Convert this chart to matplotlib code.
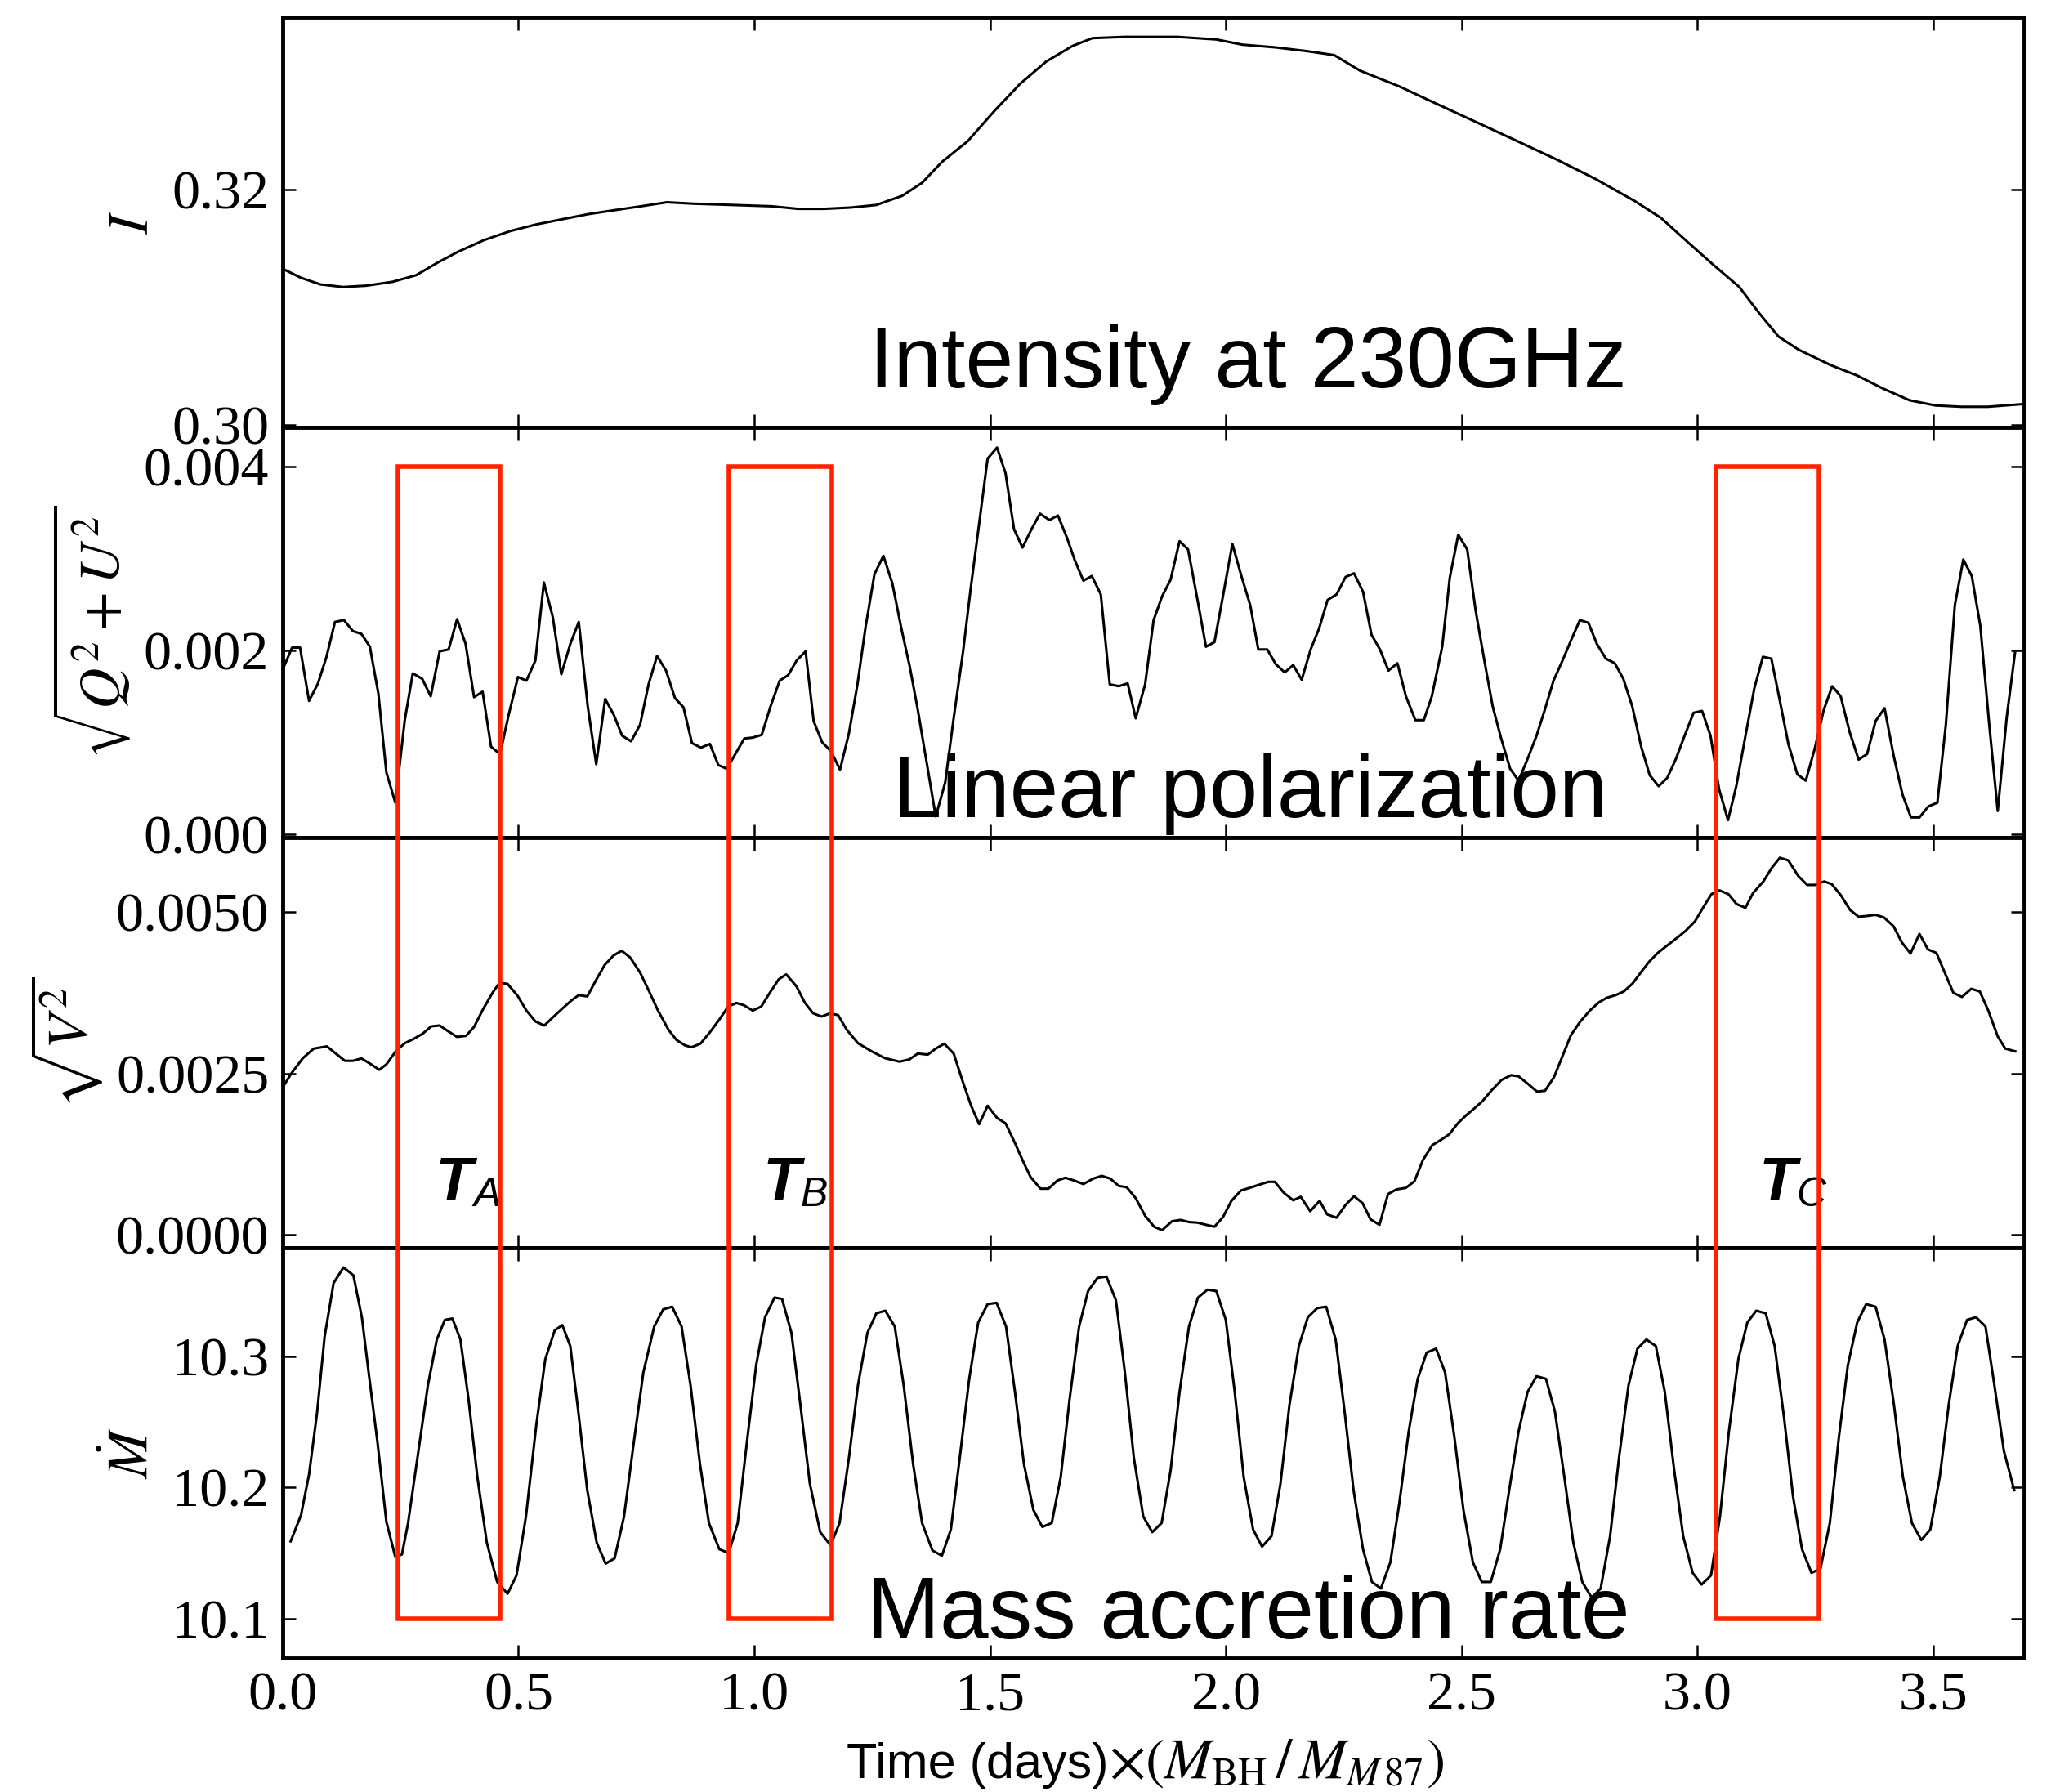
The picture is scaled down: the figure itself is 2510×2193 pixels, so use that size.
import matplotlib
matplotlib.use('Agg')
import matplotlib.pyplot as plt
from matplotlib.patches import Rectangle

plt.rcParams['font.family'] = 'serif'
plt.rcParams['font.serif'] = ['Liberation Serif', 'DejaVu Serif']
plt.rcParams['mathtext.fontset'] = 'stix'

# intensity at 230GHz
t_I = [0.000, 0.039, 0.080, 0.128, 0.177, 0.233, 0.283, 0.330, 0.372, 0.427,
       0.483, 0.538, 0.593, 0.649, 0.704, 0.760, 0.815, 0.871, 0.954, 1.037,
       1.093, 1.148, 1.204, 1.259, 1.314, 1.356, 1.398, 1.453, 1.509, 1.564,
       1.619, 1.675, 1.717, 1.786, 1.897, 1.980, 2.035, 2.105, 2.174, 2.230,
       2.285, 2.368, 2.451, 2.535, 2.618, 2.701, 2.784, 2.867, 2.923, 2.978,
       3.034, 3.089, 3.131, 3.172, 3.214, 3.283, 3.339, 3.394, 3.450, 3.505,
       3.561, 3.616, 3.688]
I_vals = [0.31326, 0.31249, 0.31193, 0.31171, 0.31182, 0.31215, 0.31271, 0.31381, 0.31470, 0.31569,
          0.31646, 0.31702, 0.31746, 0.31790, 0.31823, 0.31856, 0.31890, 0.31878, 0.31867, 0.31856,
          0.31834, 0.31834, 0.31845, 0.31867, 0.31945, 0.32055, 0.32232, 0.32409, 0.32663, 0.32895,
          0.33083, 0.33216, 0.33282, 0.33293, 0.33293, 0.33271, 0.33227, 0.33204, 0.33171, 0.33138,
          0.33006, 0.32873, 0.32718, 0.32563, 0.32409, 0.32254, 0.32088, 0.31901, 0.31757, 0.31558,
          0.31359, 0.31171, 0.30950, 0.30751, 0.30641, 0.30508, 0.30420, 0.30309, 0.30210, 0.30166,
          0.30155, 0.30155, 0.30177]

# linear polarization sqrt(Q^2+U^2)
t_lp = [0.000, 0.020, 0.037, 0.056, 0.075, 0.093, 0.111, 0.130, 0.149, 0.167,
        0.185, 0.203, 0.220, 0.239, 0.259, 0.276, 0.296, 0.314, 0.333, 0.352,
        0.370, 0.388, 0.406, 0.424, 0.442, 0.461, 0.479, 0.499, 0.517, 0.536,
        0.554, 0.573, 0.591, 0.610, 0.628, 0.647, 0.665, 0.684, 0.702, 0.720,
        0.739, 0.758, 0.776, 0.794, 0.813, 0.832, 0.850, 0.868, 0.887, 0.906,
        0.924, 0.942, 0.960, 0.979, 0.997, 1.016, 1.034, 1.054, 1.072, 1.090,
        1.109, 1.126, 1.144, 1.163, 1.182, 1.201, 1.219, 1.236, 1.255, 1.274,
        1.293, 1.312, 1.330, 1.347, 1.366, 1.385, 1.405, 1.423, 1.443, 1.459,
        1.477, 1.495, 1.515, 1.533, 1.551, 1.569, 1.588, 1.606, 1.626, 1.644,
        1.663, 1.680, 1.698, 1.716, 1.735, 1.754, 1.773, 1.792, 1.809, 1.829,
        1.847, 1.865, 1.883, 1.902, 1.920, 1.939, 1.958, 1.976, 1.994, 2.014,
        2.032, 2.052, 2.069, 2.088, 2.106, 2.125, 2.143, 2.161, 2.180, 2.198,
        2.216, 2.235, 2.254, 2.272, 2.291, 2.309, 2.327, 2.345, 2.364, 2.382,
        2.402, 2.420, 2.437, 2.459, 2.475, 2.493, 2.512, 2.530, 2.548, 2.566,
        2.584, 2.603, 2.621, 2.641, 2.659, 2.677, 2.695, 2.715, 2.733, 2.751,
        2.769, 2.787, 2.806, 2.825, 2.843, 2.862, 2.881, 2.899, 2.918, 2.936,
        2.954, 2.973, 2.992, 3.010, 3.028, 3.046, 3.065, 3.083, 3.101, 3.121,
        3.139, 3.157, 3.175, 3.193, 3.212, 3.230, 3.249, 3.268, 3.286, 3.304,
        3.323, 3.342, 3.360, 3.378, 3.397, 3.416, 3.435, 3.453, 3.471, 3.490,
        3.509, 3.527, 3.546, 3.564, 3.582, 3.600, 3.619, 3.637, 3.656, 3.674]
lp_vals = [0.00179, 0.00203, 0.00203, 0.00145, 0.00164, 0.00193, 0.00231, 0.00233, 0.00221, 0.00218,
           0.00204, 0.00153, 0.00067, 0.00034, 0.00124, 0.00175, 0.00169, 0.00150, 0.00199, 0.00201,
           0.00234, 0.00207, 0.00149, 0.00155, 0.00095, 0.00087, 0.00129, 0.00171, 0.00167, 0.00189,
           0.00274, 0.00236, 0.00174, 0.00207, 0.00231, 0.00139, 0.00076, 0.00147, 0.00130, 0.00107,
           0.00101, 0.00119, 0.00163, 0.00194, 0.00178, 0.00148, 0.00138, 0.00099, 0.00094, 0.00098,
           0.00075, 0.00071, 0.00087, 0.00104, 0.00105, 0.00108, 0.00138, 0.00167, 0.00173, 0.00189,
           0.00199, 0.00123, 0.00100, 0.00090, 0.00070, 0.00110, 0.00163, 0.00225, 0.00283, 0.00303,
           0.00273, 0.00224, 0.00182, 0.00135, 0.00077, 0.00019, 0.00056, 0.00126, 0.00199, 0.00267,
           0.00338, 0.00409, 0.00421, 0.00393, 0.00332, 0.00312, 0.00332, 0.00349, 0.00342, 0.00347,
           0.00323, 0.00298, 0.00276, 0.00281, 0.00261, 0.00163, 0.00161, 0.00164, 0.00126, 0.00163,
           0.00233, 0.00259, 0.00277, 0.00319, 0.00310, 0.00258, 0.00204, 0.00209, 0.00259, 0.00316,
           0.00283, 0.00249, 0.00201, 0.00201, 0.00185, 0.00176, 0.00184, 0.00168, 0.00201, 0.00224,
           0.00255, 0.00261, 0.00280, 0.00284, 0.00264, 0.00217, 0.00201, 0.00178, 0.00186, 0.00150,
           0.00124, 0.00124, 0.00150, 0.00204, 0.00279, 0.00326, 0.00310, 0.00243, 0.00190, 0.00139,
           0.00104, 0.00071, 0.00058, 0.00083, 0.00107, 0.00136, 0.00167, 0.00190, 0.00212, 0.00233,
           0.00230, 0.00207, 0.00191, 0.00186, 0.00169, 0.00139, 0.00095, 0.00064, 0.00052, 0.00061,
           0.00081, 0.00107, 0.00132, 0.00134, 0.00107, 0.00049, 0.00015, 0.00053, 0.00104, 0.00159,
           0.00193, 0.00191, 0.00145, 0.00098, 0.00065, 0.00058, 0.00093, 0.00135, 0.00161, 0.00150,
           0.00111, 0.00081, 0.00087, 0.00123, 0.00137, 0.00086, 0.00043, 0.00018, 0.00018, 0.00030,
           0.00034, 0.00119, 0.00249, 0.00299, 0.00281, 0.00227, 0.00119, 0.00025, 0.00127, 0.00199]

# circular polarization sqrt(V^2)
t_v = [0.001, 0.019, 0.043, 0.066, 0.094, 0.114, 0.132, 0.149, 0.167, 0.185,
       0.205, 0.220, 0.240, 0.259, 0.277, 0.297, 0.315, 0.333, 0.350, 0.370,
       0.389, 0.406, 0.425, 0.445, 0.460, 0.477, 0.498, 0.517, 0.536, 0.555,
       0.573, 0.593, 0.613, 0.628, 0.646, 0.664, 0.683, 0.702, 0.719, 0.737,
       0.758, 0.776, 0.796, 0.818, 0.835, 0.853, 0.867, 0.886, 0.906, 0.926,
       0.945, 0.962, 0.978, 0.997, 1.015, 1.033, 1.052, 1.068, 1.090, 1.107,
       1.125, 1.143, 1.161, 1.178, 1.196, 1.220, 1.249, 1.277, 1.308, 1.329,
       1.347, 1.368, 1.385, 1.403, 1.423, 1.442, 1.460, 1.477, 1.495, 1.515,
       1.533, 1.551, 1.569, 1.586, 1.607, 1.624, 1.643, 1.660, 1.678, 1.698,
       1.719, 1.737, 1.755, 1.773, 1.790, 1.809, 1.829, 1.848, 1.865, 1.886,
       1.904, 1.922, 1.940, 1.958, 1.976, 1.994, 2.012, 2.032, 2.051, 2.072,
       2.090, 2.104, 2.123, 2.143, 2.159, 2.179, 2.199, 2.215, 2.235, 2.254,
       2.272, 2.290, 2.307, 2.326, 2.344, 2.362, 2.382, 2.400, 2.418, 2.438,
       2.457, 2.474, 2.492, 2.510, 2.527, 2.545, 2.563, 2.585, 2.605, 2.621,
       2.641, 2.660, 2.677, 2.696, 2.714, 2.732, 2.752, 2.772, 2.791, 2.808,
       2.827, 2.844, 2.863, 2.880, 2.898, 2.916, 2.935, 2.955, 2.975, 2.995,
       3.011, 3.030, 3.047, 3.066, 3.083, 3.102, 3.118, 3.140, 3.158, 3.175,
       3.193, 3.214, 3.233, 3.250, 3.269, 3.285, 3.304, 3.324, 3.342, 3.360,
       3.378, 3.396, 3.416, 3.434, 3.452, 3.471, 3.489, 3.507, 3.525, 3.543,
       3.561, 3.581, 3.599, 3.617, 3.637, 3.653, 3.674]
v_vals = [0.002294, 0.002504, 0.002736, 0.002883, 0.002917, 0.002799, 0.002694, 0.002694, 0.002731, 0.002652,
          0.002555, 0.002639, 0.002841, 0.002967, 0.003030, 0.003114, 0.003228, 0.003241, 0.003157, 0.003064,
          0.003081, 0.003220, 0.003493, 0.003746, 0.003902, 0.003885, 0.003704, 0.003472, 0.003304, 0.003241,
          0.003367, 0.003502, 0.003632, 0.003712, 0.003691, 0.003935, 0.004179, 0.004327, 0.004398, 0.004293,
          0.004061, 0.003788, 0.003472, 0.003178, 0.003018, 0.002934, 0.002904, 0.002959, 0.003136, 0.003333,
          0.003535, 0.003590, 0.003556, 0.003472, 0.003535, 0.003746, 0.003956, 0.004032, 0.003843, 0.003598,
          0.003430, 0.003380, 0.003430, 0.003401, 0.003178, 0.002967, 0.002841, 0.002736, 0.002681, 0.002715,
          0.002807, 0.002790, 0.002883, 0.002959, 0.002807, 0.002378, 0.001999, 0.001713, 0.001999, 0.001810,
          0.001726, 0.001452, 0.001157, 0.000896, 0.000715, 0.000715, 0.000842, 0.000884, 0.000842, 0.000787,
          0.000871, 0.000913, 0.000871, 0.000758, 0.000737, 0.000568, 0.000295, 0.000126, 0.000072, 0.000210,
          0.000231, 0.000198, 0.000189, 0.000156, 0.000126, 0.000274, 0.000526, 0.000686, 0.000728, 0.000779,
          0.000821, 0.000821, 0.000652, 0.000535, 0.000589, 0.000366, 0.000526, 0.000316, 0.000265, 0.000463,
          0.000598, 0.000492, 0.000240, 0.000156, 0.000631, 0.000703, 0.000728, 0.000829, 0.001157, 0.001389,
          0.001473, 0.001557, 0.001726, 0.001852, 0.001957, 0.002075, 0.002231, 0.002399, 0.002471, 0.002454,
          0.002336, 0.002218, 0.002231, 0.002441, 0.002765, 0.003093, 0.003304, 0.003472, 0.003598, 0.003670,
          0.003712, 0.003767, 0.003893, 0.004061, 0.004230, 0.004364, 0.004474, 0.004587, 0.004705, 0.004853,
          0.005051, 0.005274, 0.005333, 0.005274, 0.005122, 0.005063, 0.005290, 0.005471, 0.005682, 0.005838,
          0.005796, 0.005556, 0.005417, 0.005417, 0.005471, 0.005429, 0.005261, 0.005029, 0.004924, 0.004937,
          0.004954, 0.004912, 0.004777, 0.004524, 0.004356, 0.004659, 0.004419, 0.004364, 0.004053, 0.003746,
          0.003683, 0.003809, 0.003767, 0.003472, 0.003072, 0.002883, 0.002841]

# mass accretion rate
t_m = [0.017, 0.039, 0.056, 0.073, 0.089, 0.108, 0.129, 0.150, 0.168, 0.183,
       0.201, 0.220, 0.239, 0.253, 0.266, 0.288, 0.308, 0.327, 0.344, 0.360,
       0.377, 0.394, 0.413, 0.433, 0.455, 0.477, 0.496, 0.516, 0.538, 0.557,
       0.577, 0.593, 0.610, 0.627, 0.646, 0.666, 0.685, 0.704, 0.724, 0.746,
       0.765, 0.788, 0.807, 0.826, 0.846, 0.865, 0.885, 0.904, 0.926, 0.946,
       0.965, 0.984, 1.004, 1.023, 1.043, 1.059, 1.079, 1.098, 1.118, 1.140,
       1.162, 1.181, 1.201, 1.220, 1.240, 1.259, 1.278, 1.298, 1.317, 1.337,
       1.356, 1.378, 1.398, 1.417, 1.436, 1.456, 1.475, 1.495, 1.514, 1.534,
       1.553, 1.572, 1.592, 1.611, 1.631, 1.650, 1.669, 1.689, 1.708, 1.728,
       1.747, 1.767, 1.786, 1.805, 1.825, 1.844, 1.864, 1.883, 1.902, 1.922,
       1.941, 1.961, 1.980, 2.000, 2.019, 2.038, 2.058, 2.077, 2.097, 2.116,
       2.135, 2.155, 2.174, 2.194, 2.213, 2.233, 2.252, 2.271, 2.291, 2.310,
       2.329, 2.349, 2.368, 2.388, 2.407, 2.426, 2.446, 2.465, 2.485, 2.504,
       2.524, 2.543, 2.562, 2.582, 2.601, 2.621, 2.640, 2.659, 2.679, 2.698,
       2.718, 2.737, 2.756, 2.776, 2.795, 2.815, 2.834, 2.854, 2.873, 2.892,
       2.912, 2.931, 2.951, 2.970, 2.990, 3.009, 3.029, 3.048, 3.067, 3.087,
       3.106, 3.125, 3.145, 3.164, 3.184, 3.203, 3.222, 3.242, 3.261, 3.281,
       3.300, 3.319, 3.339, 3.358, 3.378, 3.397, 3.417, 3.436, 3.455, 3.475,
       3.494, 3.514, 3.533, 3.552, 3.572, 3.591, 3.611, 3.630, 3.650, 3.672]
m_vals = [10.159, 10.179, 10.210, 10.257, 10.315, 10.356, 10.368, 10.362, 10.330, 10.286,
          10.235, 10.174, 10.147, 10.149, 10.173, 10.228, 10.278, 10.313, 10.328, 10.329,
          10.313, 10.268, 10.208, 10.158, 10.128, 10.119, 10.133, 10.178, 10.248, 10.298,
          10.320, 10.324, 10.308, 10.258, 10.198, 10.158, 10.142, 10.146, 10.178, 10.238,
          10.288, 10.323, 10.336, 10.338, 10.323, 10.278, 10.218, 10.173, 10.153, 10.150,
          10.173, 10.233, 10.293, 10.330, 10.345, 10.344, 10.318, 10.263, 10.203, 10.166,
          10.156, 10.173, 10.223, 10.278, 10.318, 10.333, 10.335, 10.323, 10.278, 10.218,
          10.173, 10.152, 10.148, 10.168, 10.223, 10.283, 10.326, 10.340, 10.341, 10.323,
          10.273, 10.218, 10.183, 10.170, 10.173, 10.208, 10.268, 10.323, 10.350, 10.360,
          10.361, 10.343, 10.288, 10.223, 10.178, 10.166, 10.173, 10.213, 10.273, 10.323,
          10.345, 10.351, 10.350, 10.328, 10.273, 10.208, 10.168, 10.155, 10.163, 10.203,
          10.263, 10.308, 10.330, 10.337, 10.338, 10.313, 10.258, 10.198, 10.153, 10.128,
          10.123, 10.143, 10.188, 10.243, 10.283, 10.303, 10.306, 10.288, 10.238, 10.183,
          10.143, 10.128, 10.128, 10.153, 10.198, 10.243, 10.273, 10.285, 10.283, 10.258,
          10.208, 10.158, 10.128, 10.116, 10.123, 10.163, 10.223, 10.278, 10.306, 10.313,
          10.308, 10.273, 10.213, 10.163, 10.135, 10.126, 10.133, 10.178, 10.243, 10.298,
          10.326, 10.335, 10.333, 10.308, 10.253, 10.193, 10.153, 10.135, 10.138, 10.173,
          10.238, 10.293, 10.326, 10.340, 10.338, 10.313, 10.263, 10.208, 10.173, 10.160,
          10.168, 10.208, 10.263, 10.308, 10.328, 10.330, 10.323, 10.278, 10.228, 10.198]

# highlighted time windows
box_starts = [0.244, 0.947, 3.040]
box_width = 0.218
box_letters = ['A', 'B', 'C']
letter_t = [0.3245, 1.018, 3.131]

fig, axes = plt.subplots(4, 1, sharex=True, figsize=(25.10, 21.93), dpi=100)
fig.subplots_adjust(left=0.1378, right=0.9869, top=0.9904, bottom=0.0748, hspace=0)
ax1, ax2, ax3, ax4 = axes

ax1.plot(t_I, I_vals, color='k', lw=2.2)
ax2.plot(t_lp, lp_vals, color='k', lw=2.2)
ax3.plot(t_v, v_vals, color='k', lw=2.2)
ax4.plot(t_m, m_vals, color='k', lw=2.2)

ax1.set_ylim(0.2998, 0.3346)
ax1.set_yticks([0.30, 0.32])
ax2.set_ylim(-0.00004, 0.00443)
ax2.set_yticks([0.000, 0.002, 0.004])
ax2.set_yticklabels(['0.000', '0.002', '0.004'])
ax3.set_ylim(-0.0002, 0.00615)
ax3.set_yticks([0.0, 0.0025, 0.0050])
ax3.set_yticklabels(['0.0000', '0.0025', '0.0050'])
ax4.set_ylim(10.070, 10.383)
ax4.set_yticks([10.1, 10.2, 10.3])
ax4.set_xlim(0, 3.693)
ax4.set_xticks([0.0, 0.5, 1.0, 1.5, 2.0, 2.5, 3.0, 3.5])

ax1.set_ylabel(r'$I$', fontsize=50, labelpad=10)
ax2.set_ylabel(r'$\sqrt{Q^2+U^2}$', fontsize=50, labelpad=10)
ax3.set_ylabel(r'$\sqrt{V^2}$', fontsize=50, labelpad=10)
ax4.set_ylabel(r'$\dot{M}$', fontsize=50, labelpad=10)

for ax in axes:
    for sp in ax.spines.values():
        sp.set_linewidth(3.5)
    ax.tick_params(direction='in', top=True, right=True, length=11.5, width=1.8,
                   labelsize=49, pad=12)
ax4.tick_params(axis='x', pad=12)

# x label: sans text part + math part
fig.text(0.5406, 0.0078, 'Time (days)', family='Liberation Sans', fontsize=44,
         ha='right', va='baseline')
fig.text(0.5406, 0.0078, r'$\times\left(M_{\mathrm{BH}}\,/\,M_{M\,87}\right)$', fontsize=50,
         ha='left', va='baseline')

ax1.text(0.337, 0.098, 'Intensity at 230GHz', transform=ax1.transAxes,
         family='Liberation Sans', fontsize=76, ha='left', va='baseline')
ax2.text(0.3505, 0.05, 'Linear polarization', transform=ax2.transAxes,
         family='Liberation Sans', fontsize=77, ha='left', va='baseline')
ax4.text(0.3355, 0.048, 'Mass accretion rate', transform=ax4.transAxes,
         family='Liberation Sans', fontsize=77, ha='left', va='baseline')

for lt, name in zip(letter_t, box_letters):
    t_txt = ax3.text(lt, 0.000543, 'T', family='Liberation Sans', style='italic',
                     weight='bold', fontsize=54, ha='left', va='baseline')
    ax3.annotate(name, xy=(1, 0), xycoords=t_txt, xytext=(0, 5),
                 textcoords='offset points', family='Liberation Sans', style='italic',
                 fontsize=36, ha='left', va='baseline')

inv = fig.transFigure.inverted()
for x0 in box_starts:
    fx0, fy1 = inv.transform(ax2.transData.transform((x0, 0.004)))
    fx1, fy0 = inv.transform(ax4.transData.transform((x0 + box_width, 10.1)))
    fig.add_artist(Rectangle((fx0, fy0), fx1 - fx0, fy1 - fy0, transform=fig.transFigure,
                             fill=False, ec='#ff2200', lw=4, zorder=5))

fig.savefig('out.png', dpi=100)
